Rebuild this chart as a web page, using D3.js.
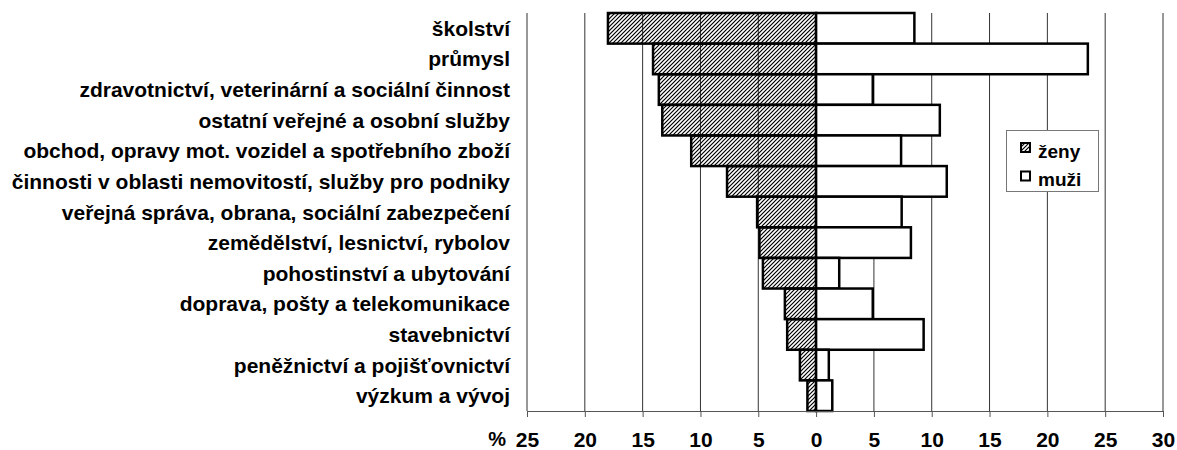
<!DOCTYPE html>
<html lang="cs">
<head>
  <meta charset="UTF-8" />
  <title>Ženy a muži podle odvětví</title>
  <script src="https://d3js.org/d3.v7.min.js"></script>
  <style>
    body { margin: 0; background: #fff; }
    svg { font-family: Arial, "Liberation Sans", sans-serif; font-weight: bold; }
    .grid line { stroke: #333; stroke-width: 1; }
    .axis path, .axis line { stroke: #555; }
    .axis text { font-size: 21px; font-weight: bold; fill: #000; }
  </style>
</head>
<body>
<svg id="chart" width="1177" height="450"></svg>
<script>
// == DATA ==
const categories = [
  "školství",
  "průmysl",
  "zdravotnictví, veterinární a sociální činnost",
  "ostatní veřejné a osobní služby",
  "obchod, opravy mot. vozidel a spotřebního zboží",
  "činnosti v oblasti nemovitostí, služby pro podniky",
  "veřejná správa, obrana, sociální zabezpečení",
  "zemědělství, lesnictví, rybolov",
  "pohostinství a ubytování",
  "doprava, pošty a telekomunikace",
  "stavebnictví",
  "peněžnictví a pojišťovnictví",
  "výzkum a vývoj"
];
const zeny = [18.0, 14.1, 13.6, 13.3, 10.8, 7.7, 5.1, 4.9, 4.6, 2.7, 2.5, 1.4, 0.75];
const muzi = [8.5, 23.5, 4.9, 10.7, 7.35, 11.3, 7.4, 8.2, 2.0, 4.9, 9.3, 1.1, 1.4];
const tickValues = [-25, -20, -15, -10, -5, 0, 5, 10, 15, 20, 25, 30];
const seriesNames = ["ženy", "muži"];

const svg = d3.select("#chart");

// hatch for women
const defs = svg.append("defs");
defs.append("pattern")
  .attr("id", "hatch")
  .attr("patternUnits", "userSpaceOnUse")
  .attr("width", 4).attr("height", 4)
  .append("path")
  .attr("d", "M-1,1 l2,-2 M0,4 l4,-4 M3,5 l2,-2")
  .attr("stroke", "#000")
  .attr("stroke-width", 1.2);

const x = d3.scaleLinear().domain([-25, 30]).range([527, 1163]);
const y = d3.scaleBand().domain(categories).range([13, 411]).padding(0);

// gridlines
svg.append("g").attr("class", "grid")
  .selectAll("line")
  .data(tickValues)
  .join("line")
  .attr("x1", d => x(d)).attr("x2", d => x(d))
  .attr("y1", y.range()[0]).attr("y2", y.range()[1]);

// bars
const rows = categories.map((c, i) => ({ cat: c, f: zeny[i], m: muzi[i] }));

svg.append("g").selectAll("rect")
  .data(rows)
  .join("rect")
  .attr("x", d => x(-d.f))
  .attr("width", d => x(0) - x(-d.f))
  .attr("y", d => y(d.cat))
  .attr("height", y.bandwidth())
  .attr("fill", "url(#hatch)")
  .attr("stroke", "#000")
  .attr("stroke-width", 2.5);

svg.append("g").selectAll("rect")
  .data(rows)
  .join("rect")
  .attr("x", x(0))
  .attr("width", d => x(d.m) - x(0))
  .attr("y", d => y(d.cat))
  .attr("height", y.bandwidth())
  .attr("fill", "#fff")
  .attr("stroke", "#000")
  .attr("stroke-width", 2.5);

// x axis
const xAxis = svg.append("g")
  .attr("class", "axis")
  .attr("transform", `translate(0,${y.range()[1]})`)
  .call(d3.axisBottom(x).tickValues(tickValues).tickFormat(d => Math.abs(d)).tickSizeOuter(0).tickSize(6).tickPadding(15));
xAxis.select(".domain").attr("stroke", "#555");

svg.append("text")
  .attr("x", 506).attr("y", 446)
  .attr("text-anchor", "end")
  .style("font-size", "20px")
  .text("%");

// category labels
svg.append("g").selectAll("text")
  .data(categories)
  .join("text")
  .attr("x", 510)
  .attr("y", d => y(d) + y.bandwidth() / 2)
  .attr("dy", "0.36em")
  .attr("text-anchor", "end")
  .style("font-size", "21px")
  .text(d => d);

// legend
const legend = svg.append("g");
legend.append("rect")
  .attr("x", 1006.5).attr("y", 130.5)
  .attr("width", 92).attr("height", 61)
  .attr("fill", "#fff")
  .attr("stroke", "#777");

const fills = ["url(#hatch)", "#fff"];
seriesNames.forEach((name, i) => {
  const top = 143 + i * 28.5;
  legend.append("rect")
    .attr("x", 1021).attr("y", top)
    .attr("width", 9).attr("height", 9)
    .attr("fill", fills[i])
    .attr("stroke", "#000")
    .attr("stroke-width", 2);
  legend.append("text")
    .attr("x", 1038).attr("y", top + 14.5)
    .style("font-size", "19px")
    .text(name);
});
</script>
</body>
</html>
